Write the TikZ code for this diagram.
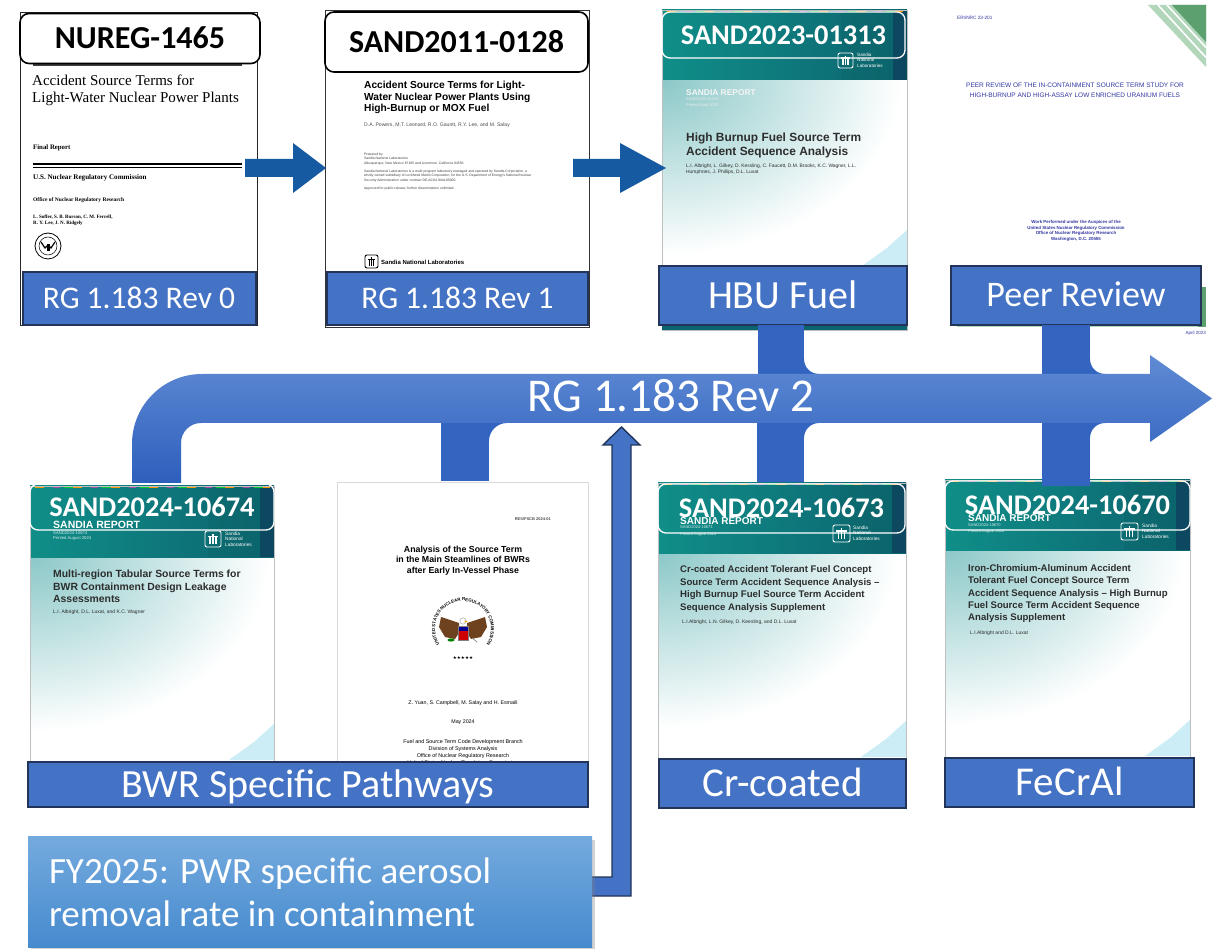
\documentclass[tikz,border=0pt]{standalone}
\usepackage{fontspec}
\setmainfont{Liberation Sans}
\newfontfamily\calib{Carlito}
\newfontfamily\tms{Liberation Serif}
\newfontfamily\dvs{DejaVu Sans}
\usetikzlibrary{shadows,decorations.text,calc}
\definecolor{lblfill}{RGB}{68,114,196}
\definecolor{lbldraw}{RGB}{34,52,90}
\definecolor{arrblue}{RGB}{22,90,162}
\definecolor{bandtop}{RGB}{95,138,212}
\definecolor{bandbot}{RGB}{45,95,188}
\definecolor{legblue}{RGB}{51,101,192}
\definecolor{tealL}{RGB}{16,142,136}
\definecolor{tealR}{RGB}{12,100,112}
\definecolor{tealD}{RGB}{12,72,96}
\definecolor{tealpale}{RGB}{140,200,200}
\definecolor{hexblue}{RGB}{170,225,240}
\definecolor{fytop}{RGB}{116,170,222}
\definecolor{fybot}{RGB}{70,138,206}
\definecolor{nrcblue}{RGB}{48,54,160}
\definecolor{grnD}{RGB}{92,160,112}
\definecolor{grnL}{RGB}{178,214,186}
\definecolor{ink}{RGB}{45,45,45}
\definecolor{eagle}{RGB}{110,66,30}
\newcommand\fs[2]{\fontsize{#1}{#2}\selectfont}
% Sandia report cover: x1, ytop, x2, header bottom, page bottom, hex base
\newcommand\snlpage[6]{%
  \fill[white] (#1,#2) rectangle (#3,#5);
  \begin{scope}
    \clip (#1,#4) rectangle (#3,#6);
    \shade[inner color=tealpale, outer color=white] (#1,#4) ellipse[x radius=240pt, y radius=175pt];
  \end{scope}
  \shade[left color=tealL, right color=tealR] (#1,#2) rectangle (#3,#4);
  \fill[tealL!70!black, opacity=0.25] ({#3-66},#2) rectangle ({#3-14},#4);
  \fill[tealD] ({#3-14},#2) rectangle (#3,#4);
  \draw[orange!80!yellow, line width=1pt, dash pattern=on 10pt off 28pt] ({#1+4},{#2+2}) -- ({#3-4},{#2+2});
  \draw[violet!70, line width=1pt, dash pattern=on 7pt off 31pt, dash phase=-19pt] ({#1+4},{#2+2}) -- ({#3-4},{#2+2});
  \draw[green!60!teal, line width=1pt, dash pattern=on 9pt off 29pt, dash phase=-30pt] ({#1+4},{#2+2}) -- ({#3-4},{#2+2});
  \fill[hexblue, opacity=0.6] ({#3-45},#6) -- ({#3-20},{#6-18}) -- (#3,{#6-36}) -- (#3,#6) -- cycle;
  \draw[black!25, line width=0.6pt] (#1,#2) rectangle (#3,#5);
}
% Sandia logo: x, y (top left), colour, size
\newcommand\snllogo[4]{%
  \draw[#3, line width=0.9pt, rounded corners=2pt] (#1,#2) rectangle ({#1+#4},{#2+#4});
  \fill[#3] ({#1+0.2*#4},{#2+0.3*#4}) rectangle ({#1+0.8*#4},{#2+0.4*#4});
  \fill[#3] ({#1+0.27*#4},{#2+0.4*#4}) rectangle ({#1+0.37*#4},{#2+0.83*#4});
  \fill[#3] ({#1+0.45*#4},{#2+0.18*#4}) rectangle ({#1+0.55*#4},{#2+0.83*#4});
  \fill[#3] ({#1+0.63*#4},{#2+0.4*#4}) rectangle ({#1+0.73*#4},{#2+0.83*#4});
}
\begin{document}
\begin{tikzpicture}[x=1pt,y=-1pt,
  lbl/.style={draw=lbldraw, line width=2pt, fill=lblfill, text=white, inner sep=0pt, text depth=0pt},
  ttl/.style={draw=black, line width=1.6pt, rounded corners=9pt, fill=white, inner sep=0pt, text depth=0pt, text height=20.5pt, font=\calib\bfseries\fs{32}{36}},
  sttl/.style={draw=white, line width=1.3pt, rounded corners=8pt, inner sep=0pt, text=white, text depth=0pt, text height=18.2pt, font=\calib\bfseries\fs{28.4}{32}},
  tx/.style={inner sep=0pt, anchor=west},
  blk/.style={inner sep=0pt, anchor=north west, align=left},
  ctr/.style={inner sep=0pt, align=center},
  page/.style={inner sep=0pt, anchor=north west},
]
\useasboundingbox (0,0) rectangle (1219,949);
\fill[white] (0,0) rectangle (1219,949);

% ---------------- Doc 1 : NUREG-1465
\node[page, draw=black!85, line width=0.8pt, fill=white, minimum width=237pt, minimum height=313pt] (doc1) at (20,12) {};
\draw[black!75, line width=2pt] (33,65) -- (242,65);
\node[blk, font=\tms\fs{15}{17}] at (32,74.5) {Accident Source Terms for\\Light-Water Nuclear Power Plants};
\node[tx, font=\tms\bfseries\fs{6.8}{8}] at (33,148) {Final Report};
\draw[line width=1.6pt] (33,164.3) -- (242,164.3);
\draw[line width=0.6pt] (33,167.6) -- (242,167.6);
\node[tx, font=\tms\bfseries\fs{7.1}{8}] at (33,178) {U.S. Nuclear Regulatory Commission};
\node[tx, font=\tms\bfseries\fs{5.5}{6}] at (33,200) {Office of Nuclear Regulatory Research};
\node[blk, font=\tms\bfseries\fs{5}{6.2}] at (33,215) {L. Soffer, S. B. Burson, C. M. Ferrell,\\R. Y. Lee, J. N. Ridgely};
\draw[black, line width=0.8pt] (48,246) circle[radius=13pt];
\draw[black, line width=0.5pt] (48,246) circle[radius=9pt];
\draw[black, line width=1.2pt] (41,242) -- (45,248) -- (48,245) -- (51,248) -- (55,242);
\fill[black] (46.5,244) rectangle (49.5,251);
\node[ttl, minimum width=240pt, minimum height=50pt] (t1) at (140,38.5) {NUREG-1465};
\node[lbl, minimum width=233pt, minimum height=53pt, font=\calib\fs{31.5}{36}, text height=20pt] (lab0) at (139,298.5) {RG 1.183 Rev 0};

% ---------------- Doc 2 : SAND2011-0128
\node[page, draw=black!80, line width=0.8pt, fill=white, minimum width=264pt, minimum height=317pt] (doc2) at (325,10) {};
\node[ttl, minimum width=263pt, minimum height=60pt] (t2) at (456.5,42) {SAND2011-0128};
\node[blk, font=\bfseries\fs{10.2}{11.7}] at (364,81) {Accident Source Terms for Light-\\Water Nuclear Power Plants Using\\High-Burnup or MOX Fuel};
\node[tx, font=\fs{5.1}{6}, text=black!70] at (364,125) {D.A. Powers, M.T. Leonard, R.O. Gauntt, R.Y. Lee, and M. Salay};
\node[blk, font=\fs{3.4}{4.2}, text=black!75] at (364,153) {Prepared by\\Sandia National Laboratories\\Albuquerque, New Mexico 87185 and Livermore, California 94550};
\node[blk, font=\fs{3.4}{4.2}, text=black!75] at (364,170) {Sandia National Laboratories is a multi-program laboratory managed and operated by Sandia Corporation, a\\wholly owned subsidiary of Lockheed Martin Corporation, for the U.S. Department of Energy's National Nuclear\\Security Administration under contract DE-AC04-94AL85000.};
\node[tx, font=\fs{3.4}{4.2}, text=black!75] at (364,189) {Approved for public release; further dissemination unlimited.};
\snllogo{365}{255}{black}{13}
\node[tx, font=\bfseries\fs{6}{7}] at (381,262) {Sandia National Laboratories};
\node[lbl, minimum width=261pt, minimum height=53pt, font=\calib\fs{31.5}{36}, text height=20pt] (lab1) at (457.5,298.5) {RG 1.183 Rev 1};

% ---------------- Doc 3 : SAND2023-01313
\snlpage{662}{10}{907}{80}{330}{266}
\node[sttl, minimum width=243pt, minimum height=46pt] (t3) at (783.5,35) {SAND2023-01313};
\snllogo{838}{53}{white}{15}
\node[blk, font=\fs{4.6}{5.3}, text=white] at (857,53) {Sandia\\National\\Laboratories};
\node[tx, font=\bfseries\fs{8.4}{9}, text=white!92!gray] at (686,93) {SANDIA REPORT};
\node[blk, font=\fs{4}{5.5}, text=white!85!gray] at (686,98) {SAND2023-01313\\Printed April 2023};
\node[blk, font=\bfseries\fs{11.9}{14}, text=ink] at (686,132.5) {High Burnup Fuel Source Term\\Accident Sequence Analysis};
\node[blk, font=\fs{4.9}{6}, text=ink] at (686,164) {L.I. Albright, L. Gilkey, D. Kessling, C. Faucett, D.M. Brooks, K.C. Wagner, L.L.\\Humphries, J. Phillips, D.L. Luxat};
\fill[tealR] (662,325) rectangle (907,330);
\node[lbl, minimum width=248pt, minimum height=59pt, font=\calib\fs{40}{44}, text height=25.6pt] (lab2) at (783,295.5) {HBU Fuel};

% ---------------- Doc 4 : Peer review
\node[page, minimum width=266pt, minimum height=335pt] (doc4) at (940,0) {};
\node[tx, font=\fs{4.7}{5}, text=nrcblue] at (957,18) {ERI/NRC 23-201};
\fill[grnL] (1148,5) -- (1206,5) -- (1206,67) -- cycle;
\draw[white, line width=1.6pt] (1158,5) -- (1206,57.5) (1167,5) -- (1206,47.5);
\fill[grnD] (1172,5) -- (1206,5) -- (1206,42) -- cycle;
\node[ctr, font=\fs{6.5}{10}, text=nrcblue] at (1075,90) {PEER REVIEW OF THE IN-CONTAINMENT SOURCE TERM STUDY FOR\\HIGH-BURNUP AND HIGH-ASSAY LOW ENRICHED URANIUM FUELS};
\node[ctr, font=\bfseries\fs{4.4}{5.5}, text=nrcblue] at (1076,231) {Work Performed under the Auspices of the\\United States Nuclear Regulatory Commission\\Office of Nuclear Regulatory Research\\Washington, D.C. 20555};
\fill[grnL] (957,287) rectangle (1206,327);
\fill[grnD] (1198,287) rectangle (1206,327);
\node[lbl, minimum width=250pt, minimum height=59pt, font=\calib\fs{36}{40}, text height=23pt] (lab3) at (1076,295.5) {Peer Review};
\node[anchor=east, inner sep=0pt, font=\fs{4.5}{5}, text=nrcblue] at (1206,333) {April 2023};

% ---------------- top arrows
\coordinate (a1) at (245,168);
\coordinate (a2) at (573,168);
\fill[arrblue] (a1) ++(0,-9) -- ++(48,0) -- ++(0,-16) -- (326,168) -- (293,193) -- ++(0,-16) -- (245,177) -- cycle;
\fill[arrblue] (a2) ++(0,-9) -- ++(47,0) -- ++(0,-16) -- (666,168) -- (620,193) -- ++(0,-16) -- (573,177) -- cycle;

% ---------------- Doc 5 : SAND2024-10674
\snlpage{30}{486}{274}{557}{762}{760}
\node[tx, font=\bfseries\fs{10.5}{12}, text=white] at (53,524.5) {SANDIA REPORT};
\node[sttl, minimum width=244pt, minimum height=46pt] (t5) at (152,507) {SAND2024-10674};
\node[blk, font=\fs{4.2}{5.8}, text=white!85!teal] at (53,531) {SAND2024-10674\\Printed August 2024};
\snllogo{205}{531}{white}{16}
\node[blk, font=\fs{4.8}{5.2}, text=white] at (225,532) {Sandia\\National\\Laboratories};
\node[blk, font=\bfseries\fs{10.4}{12.5}, text=ink] at (53,570) {Multi-region Tabular Source Terms for\\BWR Containment Design Leakage\\Assessments};
\node[tx, font=\fs{5}{6}, text=ink] at (53,612) {L.I. Albright, D.L. Luxat, and K.C. Wagner};

% ---------------- Doc 6 : NRC report
\node[page, draw=black!15, line width=1pt, fill=white, minimum width=251pt, minimum height=290pt] (doc6) at (337,482) {};
\node[anchor=east, inner sep=0pt, font=\bfseries\fs{4}{5}, text=black!70] at (551,519) {RES/FSCB 2024-01};
\node[ctr, font=\bfseries\fs{8.8}{10.5}] at (463,560.5) {Analysis of the Source Term\\in the Main Steamlines of BWRs\\after Early In-Vessel Phase};
\begin{scope}[shift={(463,629)}]
  \path[decorate, decoration={text along path, text align=center, text={|\fs{4.4}{5}\bfseries|UNITED STATES NUCLEAR REGULATORY COMMISSION}}] (215:28pt) arc[start angle=215, end angle=-35, radius=28pt];
  \fill[eagle] (-4,-6) -- (-22,-12) -- (-24,-2) -- (-18,8) -- (-8,10) -- (-4,4) -- cycle;
  \fill[eagle] (4,-6) -- (22,-12) -- (24,-2) -- (18,8) -- (8,10) -- (4,4) -- cycle;
  \filldraw[fill=white, draw=black!50, line width=0.3pt] (0,-8) circle[radius=3.2pt];
  \fill[orange!80!yellow] (1.5,-8.5) -- (4.5,-7.5) -- (1.5,-6.5) -- cycle;
  \fill[white] (-5,1.5) rectangle (5,11);
  \foreach \i in {0,...,4} \fill[red!80!black] ({-4.6+2*\i},1.5) rectangle ({-3.4+2*\i},11);
  \fill[blue!60!black] (-5,-3) rectangle (5,1.5);
  \draw[black!50, line width=0.3pt] (-5,-3) rectangle (5,11);
  \fill[green!50!black] (-12,11) ellipse[x radius=3.5pt, y radius=1.6pt];
  \draw[gray, line width=0.7pt] (9,9) -- (14,13);
  \node[inner sep=0pt, font=\dvs\fs{4.5}{5}] (stars) at (0,29) {★★★★★};
\end{scope}
\node[ctr, font=\fs{5.3}{6}] at (463,703) {Z. Yuan, S. Campbell, M. Salay and H. Esmaili};
\node[ctr, font=\fs{5.3}{6}] at (463,722) {May 2024};
\node[anchor=north, inner sep=0pt, align=center, font=\fs{5.4}{6.9}] at (463,739.5) {Fuel and Source Term Code Development Branch\\Division of Systems Analysis\\Office of Nuclear Regulatory Research\\United States Nuclear Regulatory Commission};
\node[lbl, minimum width=560pt, minimum height=45pt, font=\calib\fs{40}{44}, text height=25.6pt] (lab4) at (308,784.5) {BWR Specific Pathways};

% ---------------- Doc 7 : SAND2024-10673
\snlpage{658}{483}{906}{553}{808}{757}
\node[tx, font=\bfseries\fs{10}{12}, text=white] at (680,521.5) {SANDIA REPORT};
\node[sttl, minimum width=247pt, minimum height=49pt] (t7) at (781.5,508.5) {SAND2024-10673};
\node[blk, font=\fs{4}{6.5}, text=white!85!teal] at (680,526) {SAND2024-10673\\Printed August 2024};
\snllogo{833}{525}{white}{17}
\node[blk, font=\fs{4.8}{5.3}, text=white] at (853,526) {Sandia\\National\\Laboratories};
\node[blk, font=\bfseries\fs{9.6}{12.6}, text=ink] at (680,565.4) {Cr-coated Accident Tolerant Fuel Concept\\Source Term Accident Sequence Analysis –\\High Burnup Fuel Source Term Accident\\Sequence Analysis Supplement};
\node[tx, font=\fs{5}{6}, text=ink] at (682,622) {L.I.Albright, L.N. Gilkey, D. Keesling, and D.L. Luxat};
\node[lbl, minimum width=247pt, minimum height=49pt, font=\calib\fs{41}{44}, text height=26.2pt] (lab5) at (782.5,783.5) {Cr-coated};

% ---------------- Doc 8 : SAND2024-10670
\snlpage{945}{480}{1190}{550}{806}{756}
\node[tx, font=\bfseries\fs{10}{12}, text=white] at (968,518) {SANDIA REPORT};
\node[sttl, minimum width=245pt, minimum height=49pt] (t8) at (1067.5,505.5) {SAND2024-10670};
\node[blk, font=\fs{4}{6}, text=white!85!teal] at (968,523.5) {SAND2024-10670\\Printed August 2024};
\snllogo{1121}{523}{white}{17}
\node[blk, font=\fs{4.8}{5.3}, text=white] at (1142,524) {Sandia\\National\\Laboratories};
\node[blk, font=\bfseries\fs{9.6}{12.3}, text=ink] at (968,564.5) {Iron-Chromium-Aluminum Accident\\Tolerant Fuel Concept Source Term\\Accident Sequence Analysis – High Burnup\\Fuel Source Term Accident Sequence\\Analysis Supplement};
\node[tx, font=\fs{5}{6}, text=ink] at (970,633) {L.I.Albright and D.L. Luxat};
\node[lbl, minimum width=249pt, minimum height=49pt, font=\calib\fs{41}{44}, text height=26.2pt] (lab6) at (1069.5,782.5) {FeCrAl};

% ---------------- RG 1.183 Rev 2 timeline arrow
% legs
\fill[legblue] (441,418) rectangle (489,481);
\fill[legblue] (489,441) -- (489,423) -- (507,423) arc[start angle=90, end angle=180, radius=18pt] -- cycle;
\fill[legblue] (758,325) rectangle (804,380);
\fill[legblue] (804,359) -- (804,374) -- (819,374) arc[start angle=270, end angle=180, radius=15pt] -- cycle;
\fill[legblue] (757,418) rectangle (804,482);
\fill[legblue] (804,438) -- (804,423) -- (819,423) arc[start angle=90, end angle=180, radius=15pt] -- cycle;
\fill[legblue] (1042,325) rectangle (1090,380);
\fill[legblue] (1090,359) -- (1090,374) -- (1105,374) arc[start angle=270, end angle=180, radius=15pt] -- cycle;
\fill[legblue] (1042,418) rectangle (1090,486);
\fill[legblue] (1090,438) -- (1090,423) -- (1105,423) arc[start angle=90, end angle=180, radius=15pt] -- cycle;
% band with head
\shade[top color=bandtop, bottom color=bandbot] (132,483) -- (132,444) arc[start angle=180, end angle=90, radius=70pt] -- (1150,374) -- (1150,355) -- (1212,398.5) -- (1150,442) -- (1150,423) -- (201,423) arc[start angle=90, end angle=180, radius=20pt] -- (181,483) -- cycle;
\node[inner sep=0pt, text=white, font=\calib\fs{47}{50}, text height=30pt, text depth=0pt] (rg2) at (671,397) {RG 1.183 Rev 2};

% ---------------- FY2025 arrow and box
\filldraw[fill=lblfill, draw=lbldraw, line width=1.4pt, line join=miter] (585,877) -- (612,877) -- (612,445) -- (603,445) -- (621.5,427) -- (640,445) -- (631,445) -- (631,896) -- (585,896) -- cycle;
\node[top color=fytop, bottom color=fybot, minimum width=564pt, minimum height=111pt, inner sep=0pt,
      drop shadow={opacity=0.35, shadow xshift=2.5pt, shadow yshift=-3pt},
      text=white, font=\calib\fs{37}{43}, text width=522pt, align=flush left] (fy) at (310,892)
      {FY2025: PWR specific aerosol\\removal rate in containment};
\end{tikzpicture}
\end{document}
